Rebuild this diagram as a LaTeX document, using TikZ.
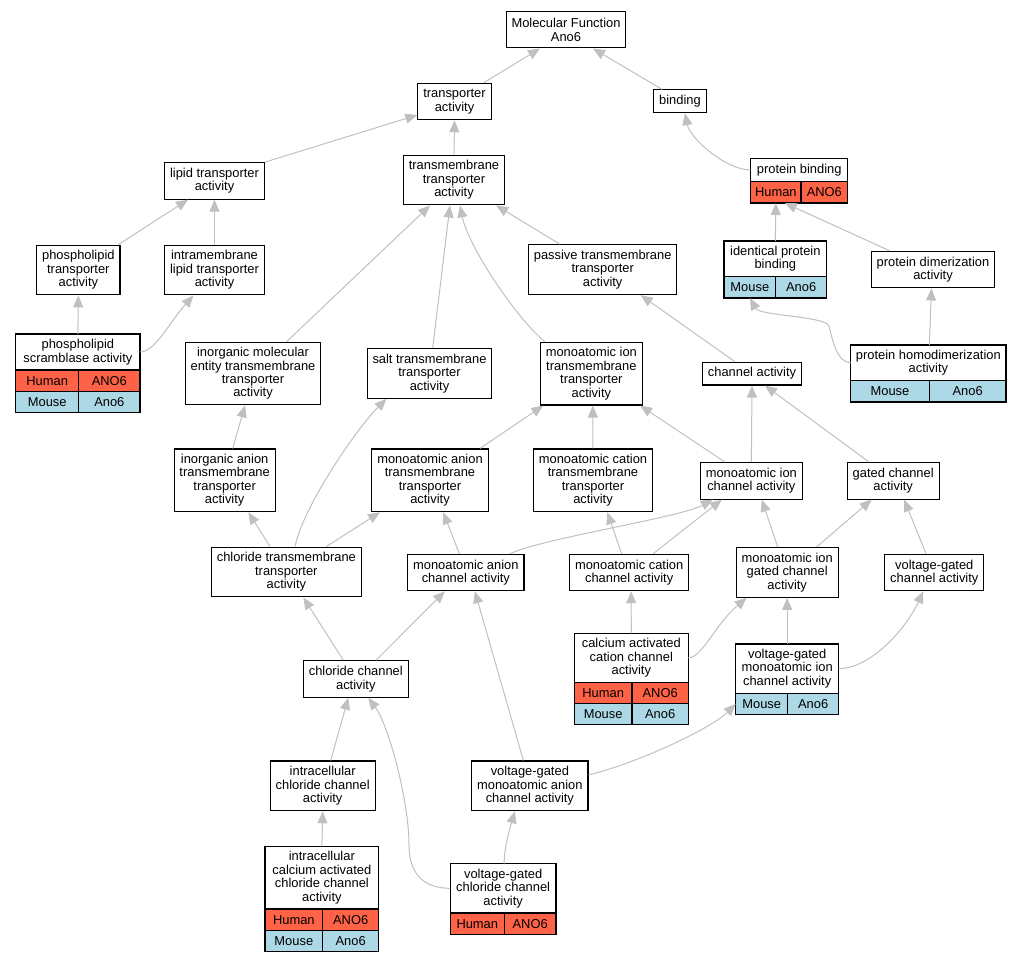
\documentclass[tikz,border=0pt]{standalone}
\usepackage{fontspec}
\setmainfont{Liberation Sans}
\usetikzlibrary{arrows.meta}
\definecolor{humanred}{HTML}{FF6347}
\definecolor{mouseblue}{HTML}{ADD8E6}
\definecolor{edgegray}{HTML}{C0C0C0}
\newcommand\gofont{\fontsize{12.9}{13.4}\selectfont}

\begin{document}
\begin{tikzpicture}[x=1pt, y=-1pt,
    box/.style={draw=black, line width=1.1pt, fill=white, align=center, inner xsep=5.4pt, inner ysep=0pt, font=\gofont},
    l1/.style={minimum height=22.7pt}, l2/.style={minimum height=36.4pt},
    l3/.style={minimum height=49.8pt}, l4/.style={minimum height=62.7pt},
    head/.style={box, inner xsep=0pt, outer sep=0pt, anchor=north west},
    hum/.style={head, fill=humanred, minimum height=21.3pt},
    mou/.style={head, fill=mouseblue, minimum height=21.3pt},
    edge/.style={draw=edgegray, line width=1pt, -{Triangle[length=12pt, width=10pt]}}]
    \useasboundingbox (0,0) rectangle (1021,963);

    % plain terms
    \node[box, l2] (mf) at (566,29.75) {Molecular Function\\Ano6};
    \node[box, l2] (ta) at (454.5,101.5) {transporter\\activity};
    \node[box, l1] (bind) at (680,101.3) {binding};
    \node[box, l3] (tmt) at (454,180) {transmembrane\\transporter\\activity};
    \node[box, l2] (lipid) at (214.5,180.9) {lipid transporter\\activity};
    \node[box, l3] (plt) at (78.35,270) {phospholipid\\transporter\\activity};
    \node[box, l3] (ilt) at (214.5,270) {intramembrane\\lipid transporter\\activity};
    \node[box, l3] (passive) at (602.7,269.65) {passive transmembrane\\transporter\\activity};
    \node[box, l2] (pdim) at (933,269.7) {protein dimerization\\activity};
    \node[box, l4] (imet) at (253,373.5) {inorganic molecular\\entity transmembrane\\transporter\\activity};
    \node[box, l3] (salt) at (429.5,373.3) {salt transmembrane\\transporter\\activity};
    \node[box, l4] (mitt) at (591.35,373.65) {monoatomic ion\\transmembrane\\transporter\\activity};
    \node[box, l1] (chan) at (752,373.65) {channel activity};
    \node[box, l4] (iatt) at (224.65,480.35) {inorganic anion\\transmembrane\\transporter\\activity};
    \node[box, l4] (matt) at (430,480.35) {monoatomic anion\\transmembrane\\transporter\\activity};
    \node[box, l4] (mctt) at (593,480.35) {monoatomic cation\\transmembrane\\transporter\\activity};
    \node[box, l2] (mic) at (751.35,480.85) {monoatomic ion\\channel activity};
    \node[box, l2] (gated) at (893.2,480.85) {gated channel\\activity};
    \node[box, l3] (ctt) at (286.35,572) {chloride transmembrane\\transporter\\activity};
    \node[box, l2] (mac) at (465.85,572.5) {monoatomic anion\\channel activity};
    \node[box, l2] (mcc) at (629.15,572.5) {monoatomic cation\\channel activity};
    \node[box, l3] (migc) at (787.2,572.35) {monoatomic ion\\gated channel\\activity};
    \node[box, l2] (vgc) at (934.3,572.5) {voltage-gated\\channel activity};
    \node[box, l2] (ccha) at (355.8,679) {chloride channel\\activity};
    \node[box, l3] (icc) at (322.7,785.85) {intracellular\\chloride channel\\activity};
    \node[box, l3] (vgmac) at (529.85,785.85) {voltage-gated\\monoatomic anion\\channel activity};

    % annotated terms (header + species rows)
    \node[head, minimum width=124.3pt, minimum height=36pt] (psa) at (15.7,334) {phospholipid\\scramblase activity};
    \node[hum, minimum width=63pt] (psah) at (psa.south west) {Human};
    \node[hum, minimum width=61.3pt] (psahg) at (psah.north east) {ANO6};
    \node[mou, minimum width=63pt] (psam) at (psah.south west) {Mouse};
    \node[mou, minimum width=61.3pt] (psamg) at (psam.north east) {Ano6};

    \node[head, minimum width=97pt, minimum height=23.4pt] (pbind) at (750.7,158.3) {protein binding};
    \node[hum, minimum width=50.3pt] (pbindh) at (pbind.south west) {Human};
    \node[hum, minimum width=46.7pt] (pbindhg) at (pbindh.north east) {ANO6};

    \node[head, minimum width=102.7pt, minimum height=35.7pt] (ipb) at (724,241) {identical protein\\binding};
    \node[mou, minimum width=51.7pt] (ipbm) at (ipb.south west) {Mouse};
    \node[mou, minimum width=51pt] (ipbmg) at (ipbm.north east) {Ano6};

    \node[head, minimum width=155.3pt, minimum height=35.7pt] (phd) at (850.7,345) {protein homodimerization\\activity};
    \node[mou, minimum width=78.6pt] (phdm) at (phd.south west) {Mouse};
    \node[mou, minimum width=76.7pt] (phdmg) at (phdm.north east) {Ano6};

    \node[head, minimum width=114pt, minimum height=49pt] (caca) at (574.3,633.3) {calcium activated\\cation channel\\activity};
    \node[hum, minimum width=57.7pt] (cacah) at (caca.south west) {Human};
    \node[hum, minimum width=56.3pt] (cacahg) at (cacah.north east) {ANO6};
    \node[mou, minimum width=57.7pt] (cacam) at (cacah.south west) {Mouse};
    \node[mou, minimum width=56.3pt] (cacamg) at (cacam.north east) {Ano6};

    \node[head, minimum width=103pt, minimum height=49.3pt] (vgmic) at (735.7,644) {voltage-gated\\monoatomic ion\\channel activity};
    \node[mou, minimum width=52pt] (vgmicm) at (vgmic.south west) {Mouse};
    \node[mou, minimum width=51pt] (vgmicmg) at (vgmicm.north east) {Ano6};

    \node[head, minimum width=113.7pt, minimum height=62.7pt] (icacc) at (265,846.3) {intracellular\\calcium activated\\chloride channel\\activity};
    \node[hum, minimum width=57.7pt] (icacch) at (icacc.south west) {Human};
    \node[hum, minimum width=56pt] (icacchg) at (icacch.north east) {ANO6};
    \node[mou, minimum width=57.7pt] (icaccm) at (icacch.south west) {Mouse};
    \node[mou, minimum width=56pt] (icaccmg) at (icaccm.north east) {Ano6};

    \node[head, minimum width=105.7pt, minimum height=49.3pt] (vgcc) at (450.3,863.7) {voltage-gated\\chloride channel\\activity};
    \node[hum, minimum width=54pt] (vgcch) at (vgcc.south west) {Human};
    \node[hum, minimum width=51.7pt] (vgcchg) at (vgcch.north east) {ANO6};

    % is_a edges, child to parent
    \draw[edge] ([xshift=-8]ta.north east) -- ([xshift=-26]mf.south);
    \draw[edge] ([xshift=-18]bind.north) -- ([xshift=27]mf.south);
    \draw[edge] (tmt.north) -- (ta.south);
    \draw[edge] (lipid.north east) -- ([yshift=-13.5]ta.west);
    \draw[edge] (pbind.west) .. controls +(-25,0) and +(5,25) .. ([xshift=5]bind.south);
    \draw[edge] ([xshift=-2]plt.north east) -- ([xshift=-26.5]lipid.south);
    \draw[edge] (ilt.north) -- (lipid.south);
    \draw[edge] (psa.north) -- (plt.south);
    \draw[edge] (psa.east) .. controls +(15,0) and +(-25,28) .. ([xshift=-21]ilt.south);
    \draw[edge] ([xshift=33.7]imet.north) -- ([xshift=-24]tmt.south);
    \draw[edge] ([xshift=3.2]salt.north) -- ([xshift=-4]tmt.south);
    \draw[edge] ([xshift=5]mitt.north west) .. controls +(-30,-25) and +(8,40) .. ([xshift=6]tmt.south);
    \draw[edge] ([xshift=-42.7]passive.north) -- ([xshift=-9]tmt.south east);
    \draw[edge] ([xshift=-43]pdim.north) -- ([xshift=9]pbindh.south);
    \draw[edge] (ipb.north) -- (pbindh.south);
    \draw[edge] (phd.west) .. controls +(-14,0) and +(3,12) .. (829,326)
        .. controls +(-4,-10) and +(10,18) .. (ipbm.south);
    \draw[edge] ([xshift=1]phd.north) -- ([xshift=-1.5]pdim.south);
    \draw[edge] ([xshift=-17]chan.north) -- ([xshift=38]passive.south);
    \draw[edge] ([xshift=8]iatt.north) -- ([xshift=-8]imet.south);
    \draw[edge] ([xshift=-16.3]ctt.north) -- ([xshift=23.7]iatt.south);
    \draw[edge] ([xshift=8.7]ctt.north) .. controls +(8,-40) and +(-30,30) .. ([xshift=-43]salt.south);
    \draw[edge] ([xshift=40]ctt.north) -- ([xshift=-50]matt.south);
    \draw[edge] ([xshift=50]matt.north) -- ([xshift=-48]mitt.south);
    \draw[edge] (mctt.north) -- ([xshift=1.4]mitt.south);
    \draw[edge] ([xshift=-26.4]mic.north) -- ([xshift=-2.7]mitt.south east);
    \draw[edge] (mic.north) -- (chan.south);
    \draw[edge] ([xshift=-24]gated.north) -- ([xshift=13]chan.south);
    \draw[edge] ([xshift=-6.5]mac.north) -- ([xshift=13.3]matt.south);
    \draw[edge] ([xshift=44]mac.north) .. controls +(35,-16) and +(-33,18) .. ([xshift=-38.5]mic.south);
    \draw[edge] ([xshift=-7.5]mcc.north) -- ([xshift=14.3]mctt.south);
    \draw[edge] ([xshift=24]mcc.north) -- ([xshift=-29.5]mic.south);
    \draw[edge] ([xshift=-9.5]migc.north) -- ([xshift=10.4]mic.south);
    \draw[edge] ([xshift=29.5]migc.north) -- ([xshift=-21.5]gated.south);
    \draw[edge] ([xshift=-8.3]vgc.north) -- ([xshift=11]gated.south);
    \draw[edge] ([xshift=-12.5]ccha.north) -- ([xshift=17]ctt.south);
    \draw[edge] ([xshift=20.2]ccha.north) -- ([xshift=-21]mac.south);
    \draw[edge] (caca.north) -- ([xshift=2]mcc.south);
    \draw[edge] (caca.east) .. controls +(14,0) and +(-32,27) .. ([xshift=11]migc.south west);
    \draw[edge] (vgmic.north) -- (migc.south);
    \draw[edge] (vgmic.east) .. controls +(31,0) and +(-18,39) .. ([xshift=-11]vgc.south);
    \draw[edge] ([xshift=8]icc.north) -- ([xshift=-7.5]ccha.south);
    \draw[edge] (vgcc.west) .. controls +(-30,0) and +(0,25) .. (409,845)
        .. controls +(0,-45) and +(20,27) .. ([xshift=12.5]ccha.south);
    \draw[edge] ([xshift=-6.5]vgmac.north) -- ([xshift=9]mac.south);
    \draw[edge] ([yshift=10.85]vgmac.east) .. controls +(52,-13) and +(-24,24) .. (vgmicm.west);
    \draw[edge] (icacc.north) -- (icc.south);
    \draw[edge] ([xshift=1]vgcc.north) .. controls +(0,-18) and +(-4,14) .. ([xshift=-15]vgmac.south);
\end{tikzpicture}
\end{document}
